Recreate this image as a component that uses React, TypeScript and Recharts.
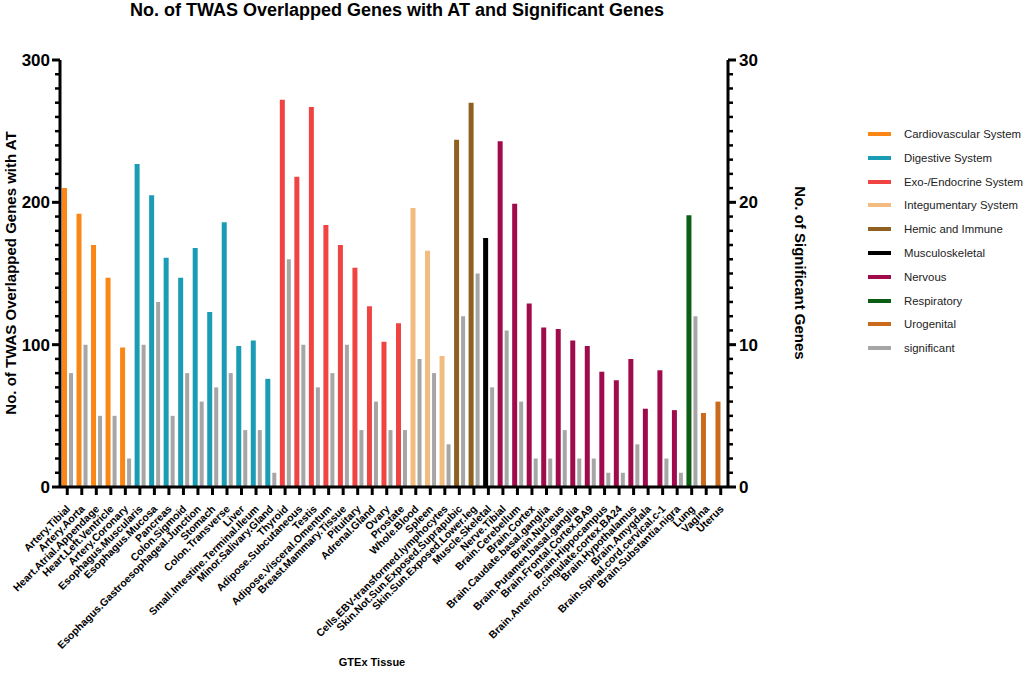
import { Bar, BarChart, Cell, XAxis, YAxis } from 'recharts'

const FONT = '"Liberation Sans", Arial, Helvetica, sans-serif'

// GTEx tissues, in plotting order
const TISSUES = [
  'Artery.Tibial',
  'Artery.Aorta',
  'Heart.Atrial.Appendage',
  'Heart.Left.Ventricle',
  'Artery.Coronary',
  'Esophagus.Muscularis',
  'Esophagus.Mucosa',
  'Pancreas',
  'Colon.Sigmoid',
  'Esophagus.Gastroesophageal.Junction',
  'Stomach',
  'Colon.Transverse',
  'Liver',
  'Small.Intestine.Terminal.Ileum',
  'Minor.Salivary.Gland',
  'Thyroid',
  'Adipose.Subcutaneous',
  'Testis',
  'Adipose.Visceral.Omentum',
  'Breast.Mammary.Tissue',
  'Pituitary',
  'Adrenal.Gland',
  'Ovary',
  'Prostate',
  'Whole.Blood',
  'Spleen',
  'Cells.EBV-transformed.lymphocytes',
  'Skin.Not.Sun.Exposed.Suprapubic',
  'Skin.Sun.Exposed.Lower.leg',
  'Muscle.Skeletal',
  'Nerve.Tibial',
  'Brain.Cerebellum',
  'Brain.Cortex',
  'Brain.Caudate.basal.ganglia',
  'Brain.Nucleus',
  'Brain.Putamen.basal.ganglia',
  'Brain.Frontal.Cortex.BA9',
  'Brain.Hippocampus',
  'Brain.Anterior.cingulate.cortex.BA24',
  'Brain.Hypothalamus',
  'Brain.Amygdala',
  'Brain.Spinal.cord.cervical.c-1',
  'Brain.Substantia.nigra',
  'Lung',
  'Vagina',
  'Uterus',
]

// No. of TWAS overlapped genes with AT (left axis)
const OVERLAP = [
  210, 192, 170, 147, 98, 227, 205, 161, 147, 168, 123, 186, 99, 103, 76, 272, 218, 267, 184, 170,
  154, 127, 102, 115, 196, 166, 92, 244, 270, 175, 243, 199, 129, 112, 111, 103, 99, 81, 75, 90, 55,
  82, 54, 191, 52, 60,
]

// No. of significant genes (right axis)
const SIGNIFICANT = [
  8, 10, 5, 5, 2, 10, 13, 5, 8, 6, 7, 8, 4, 4, 1, 16, 10, 7, 8, 10, 4, 6, 4, 4, 9, 8, 3, 12, 15, 7,
  11, 6, 2, 2, 4, 2, 2, 1, 1, 3, 0, 2, 1, 12, 0, 0,
]

const SYSTEM_OF = [
  'Cardiovascular System', 'Cardiovascular System', 'Cardiovascular System', 'Cardiovascular System', 'Cardiovascular System',
  'Digestive System', 'Digestive System', 'Digestive System', 'Digestive System', 'Digestive System',
  'Digestive System', 'Digestive System', 'Digestive System', 'Digestive System', 'Digestive System',
  'Exo-/Endocrine System', 'Exo-/Endocrine System', 'Exo-/Endocrine System', 'Exo-/Endocrine System', 'Exo-/Endocrine System',
  'Exo-/Endocrine System', 'Exo-/Endocrine System', 'Exo-/Endocrine System', 'Exo-/Endocrine System',
  'Integumentary System', 'Integumentary System', 'Integumentary System',
  'Hemic and Immune', 'Hemic and Immune',
  'Musculoskeletal',
  'Nervous', 'Nervous', 'Nervous', 'Nervous', 'Nervous', 'Nervous', 'Nervous',
  'Nervous', 'Nervous', 'Nervous', 'Nervous', 'Nervous', 'Nervous',
  'Respiratory',
  'Urogenital', 'Urogenital',
]

const SYSTEM_NAMES = [
  'Cardiovascular System',
  'Digestive System',
  'Exo-/Endocrine System',
  'Integumentary System',
  'Hemic and Immune',
  'Musculoskeletal',
  'Nervous',
  'Respiratory',
  'Urogenital',
]
const SYSTEM_COLORS = ['#fb8616', '#1a9cb4', '#f04443', '#f2bb80', '#8f601f', '#000000', '#a00c4b', '#0b5e13', '#c96a1c']
const GREY = '#a6a6a6'

const LEFT_TICKS = Array.from({ length: 31 }, (_, i) => i * 10)
const RIGHT_TICKS = Array.from({ length: 31 }, (_, i) => i)

const data = TISSUES.map((tissue, i) => ({
  tissue,
  overlap: OVERLAP[i],
  significant: SIGNIFICANT[i],
  color: SYSTEM_COLORS[SYSTEM_NAMES.indexOf(SYSTEM_OF[i])],
}))

const legendItems = [
  ...SYSTEM_NAMES.map((name, i) => ({ name, color: SYSTEM_COLORS[i] })),
  { name: 'significant', color: GREY },
]

function LeftTick({ x, y, payload }: any) {
  const major = payload.value % 100 === 0
  return (
    <g>
      <line x1={x - (major ? 8 : 5)} x2={x} y1={y} y2={y} stroke="#000" strokeWidth={major ? 3 : 2.5} />
      {major ? (
        <text x={x - 10} y={y} dy="0.36em" textAnchor="end" fontSize={17} fontWeight="bold" fontFamily={FONT} fill="#000">
          {payload.value}
        </text>
      ) : null}
    </g>
  )
}

function RightTick({ x, y, payload }: any) {
  const major = payload.value % 10 === 0
  return (
    <g>
      <line x1={x} x2={x + (major ? 8 : 5)} y1={y} y2={y} stroke="#000" strokeWidth={major ? 3 : 2.5} />
      {major ? (
        <text x={x + 11} y={y} dy="0.36em" textAnchor="start" fontSize={17} fontWeight="bold" fontFamily={FONT} fill="#000">
          {payload.value}
        </text>
      ) : null}
    </g>
  )
}

function TissueTick({ x, y, payload }: any) {
  const tx = x + 1
  const ty = y + 20
  return (
    <g>
      <line x1={x} x2={x} y1={y} y2={y + 8} stroke="#000" strokeWidth={3} />
      <text
        x={tx}
        y={ty}
        dy="0.35em"
        textAnchor="end"
        transform={`rotate(-45 ${tx} ${ty})`}
        fontSize={10.5}
        fontWeight="bold"
        fontFamily={FONT}
        fill="#000"
      >
        {payload.value}
      </text>
    </g>
  )
}

export default function App() {
  return (
    <div style={{ position: 'absolute', left: 0, top: 0, width: 1026, height: 677, background: '#fff', fontFamily: FONT }}>
      <div
        style={{
          position: 'absolute',
          left: 397,
          top: 10,
          transform: 'translate(-50%, -50%)',
          whiteSpace: 'nowrap',
          fontSize: 18,
          fontWeight: 'bold',
        }}
      >
        No. of TWAS Overlapped Genes with AT and Significant Genes
      </div>

      <BarChart
        width={1026}
        height={677}
        data={data}
        margin={{ top: 60, right: 228, bottom: 40, left: 0 }}
        barGap={2}
      >
        <XAxis
          dataKey="tissue"
          interval={0}
          height={150}
          tick={<TissueTick />}
          tickLine={false}
          tickSize={0}
          tickMargin={0}
          axisLine={{ stroke: '#000', strokeWidth: 3 }}
        />
        <YAxis
          yAxisId="left"
          orientation="left"
          width={60}
          domain={[0, 300]}
          ticks={LEFT_TICKS}
          interval={0}
          tick={<LeftTick />}
          tickLine={false}
          tickSize={0}
          tickMargin={0}
          axisLine={{ stroke: '#000', strokeWidth: 3 }}
        />
        <YAxis
          yAxisId="right"
          orientation="right"
          width={70}
          domain={[0, 30]}
          ticks={RIGHT_TICKS}
          interval={0}
          tick={<RightTick />}
          tickLine={false}
          tickSize={0}
          tickMargin={0}
          axisLine={{ stroke: '#000', strokeWidth: 3 }}
        />
        <Bar dataKey="overlap" yAxisId="left" barSize={5} isAnimationActive={false}>
          {data.map((d) => (
            <Cell key={d.tissue} fill={d.color} />
          ))}
        </Bar>
        <Bar dataKey="significant" yAxisId="right" barSize={4} fill={GREY} isAnimationActive={false} />
      </BarChart>

      <div
        style={{
          position: 'absolute',
          left: 10,
          top: 273,
          transform: 'translate(-50%, -50%) rotate(-90deg)',
          whiteSpace: 'nowrap',
          fontSize: 15,
          fontWeight: 'bold',
        }}
      >
        No. of TWAS Overlapped Genes with AT
      </div>
      <div
        style={{
          position: 'absolute',
          left: 800,
          top: 273,
          transform: 'translate(-50%, -50%) rotate(90deg)',
          whiteSpace: 'nowrap',
          fontSize: 15,
          fontWeight: 'bold',
        }}
      >
        No. of Significant Genes
      </div>
      <div
        style={{
          position: 'absolute',
          left: 372,
          top: 662,
          transform: 'translate(-50%, -50%)',
          whiteSpace: 'nowrap',
          fontSize: 11,
          fontWeight: 'bold',
        }}
      >
        GTEx Tissue
      </div>

      {legendItems.map((item, i) => (
        <div
          key={item.name}
          style={{ position: 'absolute', left: 868, top: 134 + i * 23.8, transform: 'translateY(-50%)', display: 'flex', alignItems: 'center' }}
        >
          <span style={{ display: 'inline-block', width: 23, height: 4, background: item.color }} />
          <span style={{ marginLeft: 13, fontSize: 11.4, color: '#222', whiteSpace: 'nowrap' }}>{item.name}</span>
        </div>
      ))}
    </div>
  )
}
